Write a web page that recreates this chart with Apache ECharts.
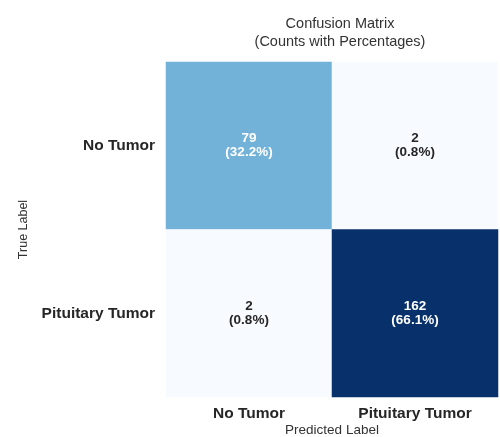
<!DOCTYPE html>
<html>
<head>
<meta charset="utf-8">
<script src="https://cdn.jsdelivr.net/npm/echarts@6/dist/echarts.min.js"></script>
<style>
  html, body { margin: 0; padding: 0; background: #fff; }
  #chart { width: 500px; height: 437px; }
</style>
</head>
<body>
<div id="chart"></div>
<script>
// labels on both axes (true rows, predicted columns)
const classNames = ['No Tumor', 'Pituitary Tumor'];
// counts[row][col], row = true label, col = predicted label
const counts = [
  [79, 2],
  [2, 162]
];
const percents = [
  [32.2, 0.8],
  [0.8, 66.1]
];
// matplotlib "Blues" colormap stops
const blues = ['#f7fbff', '#deebf7', '#c6dbef', '#9ecae1', '#6baed6',
               '#4292c6', '#2171b5', '#08519c', '#08306b'];

const font = "'Liberation Sans', Arial, sans-serif";

const cells = [];
counts.forEach((row, r) => {
  row.forEach((v, c) => {
    cells.push([c, r, v, percents[r][c]]);
  });
});
const allValues = cells.map(d => d[2]);
const vmin = Math.min(...allValues);
const vmax = Math.max(...allValues);

const chart = echarts.init(document.getElementById('chart'));

chart.setOption({
  animation: false,
  backgroundColor: '#fff',
  title: {
    text: 'Confusion Matrix\n(Counts with Percentages)',
    left: 335,
    top: 10,
    textAlign: 'center',
    textStyle: {
      fontFamily: font,
      fontSize: 14.5,
      fontWeight: 'normal',
      color: '#333',
      lineHeight: 18
    }
  },
  grid: {
    left: 166,
    top: 62,
    width: 332,
    height: 335,
    containLabel: false,
    outerBoundsMode: 'none'
  },
  xAxis: {
    type: 'category',
    data: classNames,
    name: 'Predicted Label',
    nameLocation: 'middle',
    nameGap: 26,
    nameMoveOverlap: false,
    nameTextStyle: {
      fontFamily: font,
      fontSize: 13.5,
      color: '#333'
    },
    axisLine: { show: false },
    axisTick: { show: false },
    splitLine: { show: false },
    axisLabel: {
      margin: 9,
      fontFamily: font,
      fontSize: 15.5,
      fontWeight: 'bold',
      color: '#262626'
    }
  },
  yAxis: {
    type: 'category',
    data: classNames,
    inverse: true,
    name: 'True Label',
    nameLocation: 'middle',
    nameGap: 136,
    nameMoveOverlap: false,
    nameRotate: 90,
    nameTextStyle: {
      fontFamily: font,
      fontSize: 12.5,
      color: '#333'
    },
    axisLine: { show: false },
    axisTick: { show: false },
    splitLine: { show: false },
    axisLabel: {
      margin: 11,
      fontFamily: font,
      fontSize: 15.5,
      fontWeight: 'bold',
      color: '#262626'
    }
  },
  visualMap: {
    show: false,
    min: vmin,
    max: vmax,
    dimension: 2,
    inRange: { color: blues }
  },
  series: [{
    type: 'heatmap',
    data: cells.map(d => ({
      value: d,
      // white text on the darker cells, as seaborn does
      label: { color: (d[2] - vmin) / (vmax - vmin) > 0.4 ? '#ffffff' : '#262626' }
    })),
    itemStyle: { borderWidth: 0 },
    label: {
      show: true,
      fontFamily: font,
      fontSize: 13.5,
      fontWeight: 'bold',
      lineHeight: 14,
      formatter: p => p.value[2] + '\n(' + p.value[3].toFixed(1) + '%)'
    }
  }]
});
</script>
</body>
</html>
